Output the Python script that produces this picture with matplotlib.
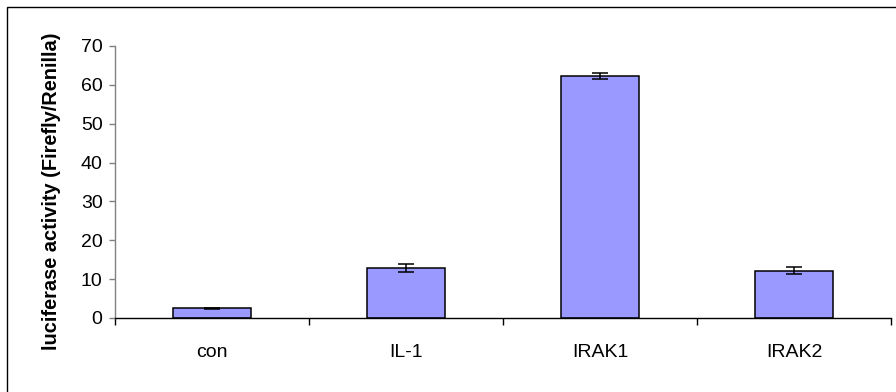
import matplotlib
matplotlib.use("Agg")
import matplotlib.pyplot as plt
from matplotlib.patches import Rectangle
import numpy as np

plt.rcParams['font.family'] = ['Liberation Sans', 'DejaVu Sans']

categories = ["con", "IL-1", "IRAK1", "IRAK2"]
values = [2.5, 12.8, 62.3, 12.2]
errors = [0.2, 1.0, 0.8, 1.0]
y_ticks = [0, 10, 20, 30, 40, 50, 60, 70]

W, H = 896, 392
fig = plt.figure(figsize=(W / 100, H / 100), dpi=100)

# outer chart frame
fig.add_artist(Rectangle((7 / W, -0.05), 1.1, (H - 6.5) / H + 0.05,
                         transform=fig.transFigure, fill=False,
                         edgecolor="black", linewidth=1.0))

ax = fig.add_axes([115 / W, 74 / H, (891 - 115) / W, 272 / H])
x = np.arange(len(categories))
ax.bar(x, values, width=0.4, color="#9999FF", edgecolor="black", linewidth=1.1,
       zorder=2)
ax.errorbar(x, values, yerr=errors, fmt="none", ecolor="black", elinewidth=1.1,
            capsize=5.5, capthick=1.1, zorder=3)

ax.set_xlim(-0.5, len(categories) - 0.5)
ax.set_ylim(0, 70)
ax.set_yticks(y_ticks)
ax.set_xticks(x)
ax.set_xticklabels(categories, fontsize=14)
ax.set_xticks(np.arange(-0.5, len(categories)), minor=True)
ax.tick_params(axis="x", which="major", length=0, pad=19)
ax.tick_params(axis="x", which="minor", length=5, width=1, color="black",
               direction="out")
ax.tick_params(axis="y", length=4, width=1, color="#808080", labelsize=14,
               pad=5)

for s in ("top", "right"):
    ax.spines[s].set_visible(False)
ax.spines["left"].set_color("#808080")
ax.spines["left"].set_linewidth(1.0)
ax.spines["bottom"].set_color("black")
ax.spines["bottom"].set_linewidth(1.0)

ax.set_ylabel("luciferase activity (Firefly/Renilla)", fontsize=14.4,
              fontweight="bold")
ax.yaxis.set_label_coords(-0.07, 0.465)

fig.savefig("out.png", dpi=100)
